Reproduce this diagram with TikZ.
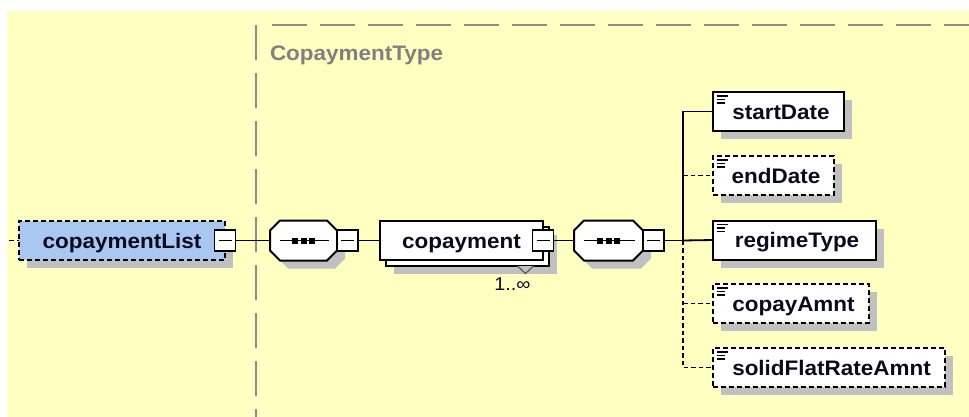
\documentclass[tikz,border=0pt]{standalone}
\usepackage{fontspec}
\setmainfont[FakeStretch=1.07]{Liberation Sans}
\usetikzlibrary{shadows}
\definecolor{bgyellow}{RGB}{255,255,194}
\definecolor{framegray}{RGB}{140,140,140}
\definecolor{shadowgray}{RGB}{192,192,192}
\definecolor{nodeblue}{RGB}{168,200,242}
\definecolor{titlegray}{RGB}{128,128,128}
\definecolor{txt}{RGB}{10,10,30}
\begin{document}
\begin{tikzpicture}[x=1pt,y=-1pt,
  every node/.style={inner sep=0pt, outer sep=0pt},
  shad/.style={drop shadow={shadow xshift=8pt,shadow yshift=-8pt,fill=shadowgray,opacity=1}},
  lbl/.style={font=\fontsize{21}{25}\selectfont\bfseries, text=txt, text height=15.5pt, text depth=0pt},
  basebox/.style={rectangle, draw=black, line width=2pt, fill=white, minimum height=39pt, lbl},
  box/.style={basebox, shad},
  optbox/.style={box, dash pattern=on 5pt off 3pt},
  elem/.style={execute at begin node={\hspace*{5pt}}, path picture={
      \draw[solid, line width=1.3pt, black]
        ([shift={(3.5pt,-4pt)}]path picture bounding box.north west) -- ++(11pt,0pt)
        ([shift={(3.5pt,-7.5pt)}]path picture bounding box.north west) -- ++(8.5pt,0pt)
        ([shift={(3.5pt,-11pt)}]path picture bounding box.north west) -- ++(8.5pt,0pt);}},
  minusbox/.style={rectangle, draw=black, fill=white, line width=1.7pt, minimum size=21pt, path picture={
      \draw[solid, line width=1.6pt, black] ([xshift=-6.5pt]path picture bounding box.center) -- ([xshift=6.5pt]path picture bounding box.center);}},
  octo/.style={rectangle, minimum height=40pt},
  octline/.style={draw=black, fill=white, line width=2pt, shad},
  conn/.style={line width=1.8pt, black},
  optconn/.style={conn, dash pattern=on 4.5pt off 3pt},
  frame/.style={draw=framegray, line width=2.2pt, dash pattern=on 35pt off 13pt}
]
\useasboundingbox (0,0) rectangle (969,417);
\fill[white] (0,0) rectangle (969,417);
\fill[bgyellow] (7,11) rectangle (969,417);

% complex type frame
\coordinate (fc) at (256,25);
\coordinate (fb) at (256,417);
\coordinate (ft) at (272,25);
\coordinate (fr) at (969,25);
\draw[frame] (fc) -- (fb);
\draw[frame] (ft) -- (fr);
\node[anchor=base west, font=\fontsize{21}{25}\selectfont\bfseries, text=titlegray] (title) at (270,61) {CopaymentType};

% main chain
\node[optbox, fill=nodeblue, minimum width=206pt] (cl) at (122,240.5) {copaymentList};
\node[minusbox] (m0) at (cl.east) {};

\node[octo, minimum width=67pt] (o1) at (303.5,240.5) {};
\node[octo, minimum width=69pt] (o2) at (608.5,240.5) {};
\foreach \o in {o1,o2}{
  \draw[octline] ([xshift=10pt]\o.north west) -- ([xshift=-10pt]\o.north east)
    -- ([yshift=-10pt]\o.north east) -- ([yshift=10pt]\o.south east)
    -- ([xshift=-10pt]\o.south east) -- ([xshift=10pt]\o.south west)
    -- ([yshift=10pt]\o.south west) -- ([yshift=-10pt]\o.north west) -- cycle;
  \draw[conn] ([xshift=10pt]\o.west) -- ([xshift=-8pt]\o.east);
  \foreach \dx in {-8.5pt,0pt,8.5pt}{
    \fill ([xshift=\dx]\o.center) ++(-3pt,-3pt) rectangle ++(6pt,6pt);
  }
}
\node[minusbox, anchor=west] (m1) at (o1.east) {};

\node[box, minimum width=163pt] (cpb) at (467.5,246.5) {};
\draw[draw=black!65, fill=shadowgray, line width=1.2pt] ([xshift=50pt]cpb.south) -- ([shift={(58pt,-7.5pt)}]cpb.south) -- ([xshift=66pt]cpb.south);
\node[basebox, minimum width=163pt] (cp) at (461.5,240.5) {copayment};
\node[minusbox] (m2) at (cp.east) {};
\node[anchor=base, font=\fontsize{18.5}{22}\selectfont, text=txt] (mult) at (512.5,290) {1..∞};

\node[minusbox, anchor=west] (m3) at (o2.east) {};
\coordinate (trunk) at (683,240.5);
\coordinate (stub) at (9,240.5);

% children
\node[box, elem, minimum width=131pt] (start) at (778.5,111.5) {startDate};
\node[optbox, elem, minimum width=121pt] (endD) at (773.5,175.5) {endDate};
\node[box, elem, minimum width=163pt] (regime) at (794.5,240) {regimeType};
\node[optbox, elem, minimum width=156pt] (copay) at (791,303.5) {copayAmnt};
\node[optbox, elem, minimum width=232pt] (solid) at (829,367.5) {solidFlatRateAmnt};

% connectors
\draw[optconn] (stub) -- (cl.west);
\draw[conn] (m0.east) -- (o1.west);
\draw[conn] (m1.east) -- (cp.west);
\draw[conn] (m2.east) -- (o2.west);
\draw[conn] (m3.east) -- (trunk);
\draw[conn] (trunk) -- (trunk |- start.west) -- (start.west);
\draw[conn] (trunk) -- (regime.west);
\draw[optconn] (trunk) -- (trunk |- solid.west) -- (solid.west);
\draw[optconn] (trunk |- endD.west) -- (endD.west);
\draw[optconn] (trunk |- copay.west) -- (copay.west);
\end{tikzpicture}
\end{document}
